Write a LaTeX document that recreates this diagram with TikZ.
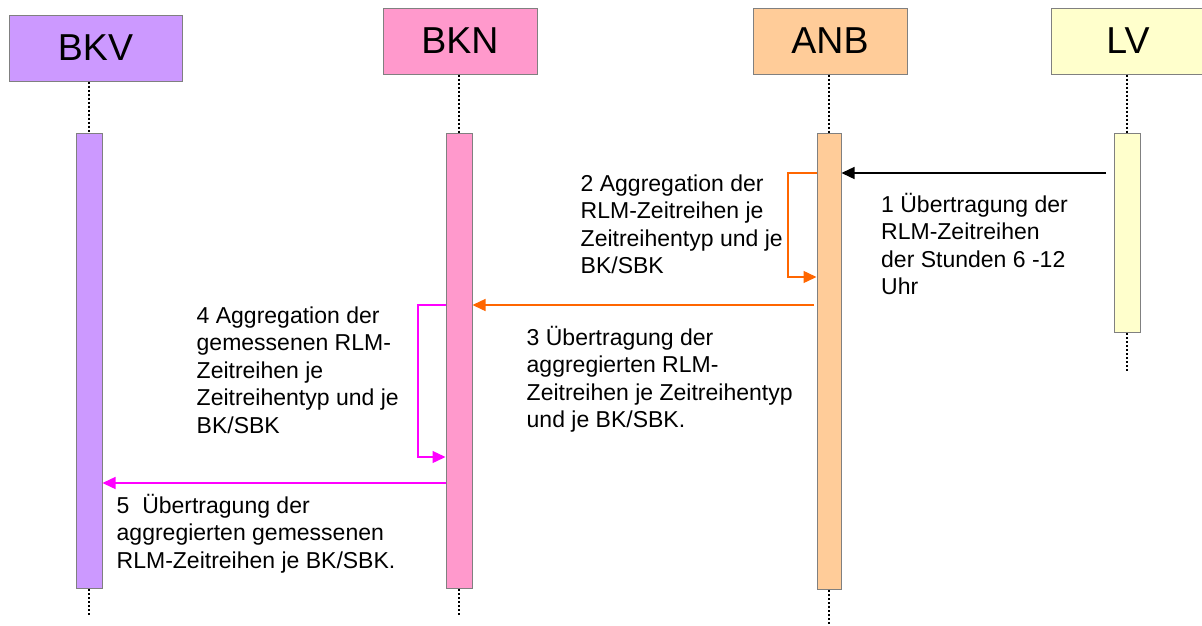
\documentclass[tikz,border=0pt]{standalone}
\usepackage{fontspec}
\setmainfont{Liberation Sans}
\usetikzlibrary{arrows.meta}

\definecolor{bkvfill}{HTML}{CC99FF}
\definecolor{bknfill}{HTML}{FF99CC}
\definecolor{anbfill}{HTML}{FFCC99}
\definecolor{lvfill}{HTML}{FFFFCC}
\definecolor{framegray}{HTML}{808080}
\definecolor{msgorange}{HTML}{FF6600}
\definecolor{msgmagenta}{HTML}{FF00FF}

% fixed first-line height so every label starts at the same offset
\newcommand\firstline{\rule{0pt}{21pt}}

\begin{document}
\begin{tikzpicture}[x=1pt,y=-1pt,
  head/.style={draw=framegray, line width=1pt, inner sep=0pt,
    minimum height=66pt, font=\fontsize{37.5}{40}\selectfont},
  bar/.style={draw=framegray, line width=1pt, inner sep=0pt, anchor=north,
    minimum width=26pt},
  life/.style={line width=2pt, dash pattern=on 2pt off 2pt},
  msg/.style={line width=1.4pt, -{Triangle[length=13pt,width=12pt]}},
  lbl/.style={anchor=north west, align=left, inner sep=0pt,
    font=\fontsize{23}{27.5}\selectfont},
]
\useasboundingbox (0,0) rectangle (1202,625);

% participant headers
\node[head, fill=bkvfill, minimum width=173pt] (bkv) at (95.5,48) {BKV};
\node[head, fill=bknfill, minimum width=154pt] (bkn) at (460,41) {BKN};
\node[head, fill=anbfill, minimum width=154pt] (anb) at (830,41) {ANB};
\node[head, fill=lvfill,  minimum width=154pt] (lv)  at (1128,41) {LV};

% activation bars
\node[bar, fill=bkvfill, minimum height=455pt] (bkvbar) at (89,133) {};
\node[bar, fill=bknfill, minimum height=455pt] (bknbar) at (459,133) {};
\node[bar, fill=anbfill, minimum width=24pt, minimum height=456pt] (anbbar) at (829,133) {};
\node[bar, fill=lvfill,  minimum height=199pt] (lvbar) at (1127,133) {};

% lifelines
\draw[life] (bkvbar.north |- bkv.south) -- (bkvbar.north);
\draw[life] (bkvbar.south) -- ++(0,26);
\draw[life] (bknbar.north |- bkn.south) -- (bknbar.north);
\draw[life] (bknbar.south) -- ++(0,26);
\draw[life] (anbbar.north |- anb.south) -- (anbbar.north);
\draw[life] (anbbar.south) -- ++(0,36);
\draw[life] (lvbar.north |- lv.south) -- (lvbar.north);
\draw[life] (lvbar.south) -- ++(0,38);

% message levels
\coordinate (m1) at (1106,173);
\coordinate (r2) at (788,277);
\coordinate (m3) at (814,305);
\coordinate (r4) at (418,457);
\coordinate (m5) at (0,483);

% 1: LV -> ANB
\draw[msg, black] (m1) -- (m1 -| anbbar.east);
% 2: ANB aggregates
\draw[msg, msgorange] (anbbar.west |- m1) -| (r2) -- (anbbar.west |- r2);
% 3: ANB -> BKN
\draw[msg, msgorange] (m3) -- (m3 -| bknbar.east);
% 4: BKN aggregates
\draw[msg, msgmagenta] (bknbar.west |- m3) -| (r4) -- (bknbar.west |- r4);
% 5: BKN -> BKV
\draw[msg, msgmagenta] (bknbar.west |- m5) -- (bkvbar.east |- m5);

% message texts
\node[lbl] (t1) at (881,191) {\firstline 1 Übertragung der\\RLM-Zeitreihen\\der Stunden 6 -12\\Uhr};
\node[lbl] (t2) at (580.5,170) {\firstline 2 Aggregation der\\RLM-Zeitreihen je\\Zeitreihentyp und je\\BK/SBK};
\node[lbl] (t3) at (526.5,324) {\firstline 3 Übertragung der\\aggregierten RLM-\\Zeitreihen je Zeitreihentyp\\und je BK/SBK.};
\node[lbl] (t4) at (196.5,302) {\firstline 4 Aggregation der\\gemessenen RLM-\\Zeitreihen je\\Zeitreihentyp und je\\BK/SBK};
\node[lbl] (t5) at (116.5,492) {\firstline 5~~Übertragung der\\aggregierten gemessenen\\RLM-Zeitreihen je BK/SBK.};
\end{tikzpicture}
\end{document}
